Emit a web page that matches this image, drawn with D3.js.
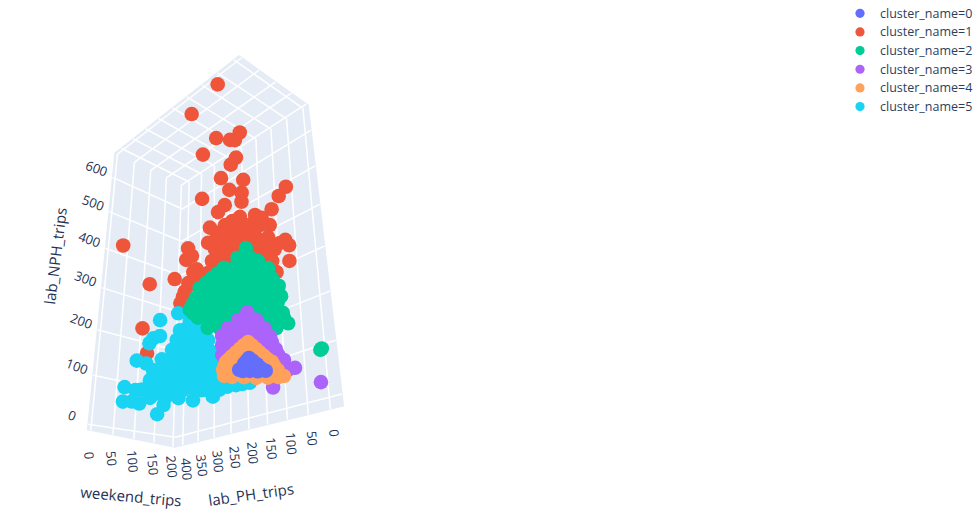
<!DOCTYPE html><html><head><meta charset="utf-8"><style>
html,body{margin:0;background:#fff}text{font-family:"Open Sans",sans-serif}
</style></head><body><svg id="chart" width="980" height="515"></svg>
<script src="https://cdn.jsdelivr.net/npm/d3@7"></script>
<script>
// [weekend_trips, lab_PH_trips, lab_NPH_trips]
const cluster0=[[20,8,35],[11,8,23],[31,8,27],[7,17,15],[7,9,11],[22,9,14],[40,9,17],[57,8,21],[22,9,21],[13,12,25],[38,8,28],[28,8,32],[16,9,30],[47,8,23]];
const cluster1=[[14,73,672],[22,168,654],[22,87,536],[22,46,507],[22,32,498],[22,18,509],[22,128,516],[22,30,453],[22,45,444],[22,73,426],[23,13,391],[22,50,386],[128,0,418],[105,0,385],[22,129,404],[22,17,363],[22,18,343],[86,3,347],[22,63,357],[22,82,350],[22,401,408],[22,290,269],[22,208,251],[22,169,305],[22,174,281],[22,157,283],[22,110,293],[22,105,325],[126,0,281],[125,1,247],[82,6,311],[116,0,289],[97,9,217],[104,3,279],[22,142,248],[22,123,229],[22,176,212],[22,188,192],[22,152,246],[22,166,227],[22,181,203],[22,86,305],[75,12,229],[22,306,175],[22,286,117],[22,23,312],[49,11,322],[64,9,321],[22,63,312],[22,31,298],[36,14,296],[62,10,305],[22,77,292],[22,45,278],[24,17,267],[51,13,276],[78,8,284],[22,91,272],[22,59,258],[22,28,246],[40,16,247],[67,12,256],[93,7,263],[22,99,249],[22,67,237],[22,36,224],[33,17,221],[60,14,229],[87,9,237],[22,110,228],[22,78,216],[22,46,204],[24,19,195],[51,16,203],[78,12,210],[22,144,215],[22,110,203],[87,12,198],[22,132,190],
[22,54,295],[23,24,282],[44,13,286],[22,68,275],[22,36,262],[32,16,257],[59,12,266],[85,8,273],[22,79,254],[22,47,241],[27,22,233],[50,15,238],[77,10,246],[22,88,232],[22,56,220],[23,27,209],[42,16,212],[69,13,219],[22,43,312]];
const cluster2=[[51,39,263],[44,54,246],[60,38,245],[78,36,244],[44,91,239],[44,62,228],[53,40,223],[78,37,229],[100,32,235],[44,124,230],[44,91,218],[44,60,206],[56,41,203],[82,37,210],[109,32,217],[44,159,221],[44,124,209],[44,92,197],[44,60,186],[56,41,183],[82,38,190],[109,33,197],[124,30,205],[44,170,203],[44,135,192],[44,102,181],[44,71,170],[47,43,161],[73,40,168],[100,36,175],[129,30,185],[44,187,184],[44,152,177],[44,119,166],[44,87,155],[44,56,145],[60,42,145],[87,39,152],[113,35,158],[133,32,153],[44,163,160],[44,130,149],[44,97,139],[44,67,130],[82,41,132],[109,37,138],[136,32,143],[44,135,131],[44,103,121],[118,36,120],[145,31,135],[200,6,89],[203,5,92],
[44,108,234],[44,76,223],[48,50,214],[67,39,216],[91,35,222],[44,141,225],[44,107,213],[44,76,202],[50,50,194],[69,39,196],[95,35,203],[44,147,206],[44,113,195],[44,81,183],[46,51,173],[64,40,175],[91,37,182],[119,31,191],[44,178,193],[44,143,184],[44,110,173],[44,79,162],[45,49,153],[66,41,156],[93,37,163],[121,32,171],[44,141,163],[44,175,172],[44,108,152],[44,77,142],[95,39,142],[122,34,150],[44,113,140],[44,82,130],[95,40,125]];
const cluster3=[[36,25,125],[27,38,112],[56,24,116],[27,63,105],[27,34,96],[47,26,99],[73,23,105],[27,78,95],[27,49,86],[33,27,81],[60,25,88],[87,23,93],[27,78,78],[27,49,70],[33,28,66],[60,26,71],[91,23,83],[27,78,60],[27,54,54],[69,26,56],[91,24,60],[105,23,63],[118,22,56],[142,19,46],[127,22,40],[113,23,52],[94,28,4],[200,11,29],
[27,49,92],[30,30,88],[54,25,94],[27,63,86],[30,38,76],[47,26,76],[74,24,82],[27,66,68],[78,25,68],[100,23,72],[36,25,112]];
const cluster4=[[29,18,67],[18,26,55],[47,18,59],[18,45,47],[64,18,51],[18,59,41],[82,17,44],[18,66,29],[18,64,18],[18,45,12],[20,20,6],[47,20,10],[73,19,15],[96,17,20],[109,16,24],[78,18,32],[96,17,32],[29,19,45],[18,31,29],[51,19,32],
[18,48,29],[18,38,20],[49,19,21],[65,18,32],[75,18,23],[19,25,17],[35,19,20],[71,18,41],[23,32,46],[18,45,35],[46,18,48],[32,22,57],
[23,22,61],[38,18,63],[18,35,51],[55,18,55],[18,52,44],[73,18,47],[18,62,35],[87,17,38],[24,22,50],[38,19,52]];
const cluster5=[[27,256,179],[27,200,176],[27,169,139],[27,254,145],[27,275,146],[27,287,139],[27,202,122],[27,326,113],[27,294,99],[27,245,95],[27,362,67],[27,298,48],[27,364,38],[27,334,32],[27,309,23],[27,234,5],[50,283,1],[35,162,0],[45,122,0],[27,192,9],[27,165,151],[27,193,139],[27,158,129],[27,136,123],[27,172,113],[27,138,104],[27,114,97],[27,215,106],[27,180,96],[27,146,87],[27,114,79],[27,104,72],[27,214,86],[27,179,77],[27,146,68],[27,114,60],[27,96,56],[27,271,80],[27,234,71],[27,198,62],[27,164,54],[27,132,46],[27,101,39],[27,279,62],[27,241,54],[27,206,45],[27,172,38],[27,140,30],[27,109,23],[27,84,17],[27,325,53],[27,286,44],[27,249,36],[27,214,28],[27,180,21],[27,147,14],[27,116,7],[27,86,1],[27,67,2],[27,276,27],[27,230,17],[27,46,0],[30,34,0],[42,30,3],
[27,162,140],[27,182,126],[27,148,116],[27,125,110],[27,159,100],[27,126,90],[27,197,91],[27,163,82],[27,130,73],[27,100,64],[27,206,74],[27,172,65],[27,139,57],[27,107,50],[27,256,67],[27,220,58],[27,185,50],[27,152,42],[27,120,35],[27,92,28],[27,264,49],[27,228,41],[27,193,33],[27,160,26],[27,128,19],[27,98,12],[27,306,49],[27,262,32],[27,197,19],[27,131,10],[27,101,4]];

const clusterNames=["cluster_name=0","cluster_name=1","cluster_name=2","cluster_name=3","cluster_name=4","cluster_name=5"];
const clusterColors=["#636efa","#EF553B","#00cc96","#ab63fa","#FFA15A","#19d3f3"];
const clusterData=[cluster0,cluster1,cluster2,cluster3,cluster4,cluster5];
const drawOrder=[1,5,2,3,4,0];
const weekendTicks=[0,50,100,150,200];
const phTicks=[0,50,100,150,200,250,300,350,400];
const nphTicks=[0,100,200,300,400,500,600];

const W=d3.scaleLinear([-7,205.5],[0,1]),P=d3.scaleLinear([-15,426],[0,1]),Z=d3.scaleLinear([-21,675],[0,1]);
const cTL=[115,153],cTR=[308,105],cF=[175,447],cA=[183,186],wu=.917,wv=.837,wt=.8;
const dx=1-wu,dy=1-wv,dz=1-wt,D0=1-dx-dy-dz;
const Nx=cA.map((a,i)=>a-wu*cTL[i]),Ny=cA.map((a,i)=>a-wv*cTR[i]),Nz=cA.map((a,i)=>a-wt*cF[i]);
const N0=cA.map((a,i)=>wu*cTL[i]+wv*cTR[i]+wt*cF[i]-2*a);
function proj(x,y,z){const d=D0+dx*x+dy*y+dz*z;
  return [0,1].map(i=>(N0[i]+Nx[i]*x+Ny[i]*y+Nz[i]*z)/d);}
const pt=d=>proj(W(d[0]),P(d[1]),Z(d[2]));

const svg=d3.select("#chart");
const wallFill="#E5ECF6";
const rightEnd=-.03,leftFloor=.015;
const walls=[[[0,1,leftFloor],[0,1,1],[1,1,1],[1,1,0]],[[1,1,0],[1,1,1],[1,0,1],[1,rightEnd,0]],[[1,1,1],[0,1,1],[0,0,1],[1,0,1]]];
svg.append("g").selectAll("path").data(walls).join("path")
  .attr("d",c=>"M"+c.map(q=>proj(...q).join(",")).join("L")+"Z")
  .attr("fill",wallFill).attr("stroke",wallFill).attr("stroke-width",1.5).attr("stroke-linejoin","round");

const grid=[];
nphTicks.forEach(n=>{const z=Z(n);grid.push([[0,1,z],[1,1,z]],[[1,1,z],[1,rightEnd*(1-z),z]]);});
weekendTicks.forEach(v=>{const x=W(v);grid.push([[x,1,leftFloor*(1-x)],[x,1,1]],[[x,1,1],[x,0,1]]);});
phTicks.forEach(v=>{const y=P(v);grid.push([[1,y,0],[1,y,1]],[[1,y,1],[0,y,1]]);});
svg.append("g").selectAll("line").data(grid).join("line")
  .each(function(g){const a=proj(...g[0]),b=proj(...g[1]);
    d3.select(this).attr("x1",a[0]).attr("y1",a[1]).attr("x2",b[0]).attr("y2",b[1]);})
  .attr("stroke","#fff").attr("stroke-width",1.5);

svg.append("g").selectAll("g").data(drawOrder).join("g").attr("fill",i=>clusterColors[i])
  .selectAll("circle").data(i=>clusterData[i]).join("circle")
  .attr("cx",d=>pt(d)[0]).attr("cy",d=>pt(d)[1]).attr("r",7.3);

const ink="#1f3355";
function ticks(vals,pos,off,rot){svg.append("g").selectAll("text").data(vals).join("text")
  .attr("transform",v=>{const p=pos(v);return `translate(${p[0]+off[0]},${p[1]+off[1]}) rotate(${rot})`;})
  .attr("text-anchor","middle").attr("dominant-baseline","central").attr("font-size",13).attr("fill",ink).text(v=>v);}
ticks(nphTicks,v=>proj(0,1,Z(v)),[-16,-9],20);
ticks(weekendTicks,v=>proj(W(v),1,0),[-1,20],85);
ticks(phTicks,v=>proj(1,P(v),0),[4,24],85);

const titles=[["weekend_trips",131,496,5],["lab_PH_trips",251,494,-8],["lab_NPH_trips",55,256,-83]];
svg.append("g").selectAll("text").data(titles).join("text")
  .attr("transform",t=>`translate(${t[1]},${t[2]}) rotate(${t[3]})`)
  .attr("text-anchor","middle").attr("dominant-baseline","central").attr("font-size",15).attr("fill",ink).text(t=>t[0]);

const leg=svg.append("g").selectAll("g").data(clusterNames).join("g")
  .attr("transform",(d,i)=>`translate(860,${13.3+i*18.65})`);
leg.append("circle").attr("r",4.6).attr("fill",(d,i)=>clusterColors[i]);
leg.append("text").attr("x",20).attr("dominant-baseline","central").attr("font-size",12.5).attr("fill","#2a3f5f").text(d=>d);
</script></body></html>
